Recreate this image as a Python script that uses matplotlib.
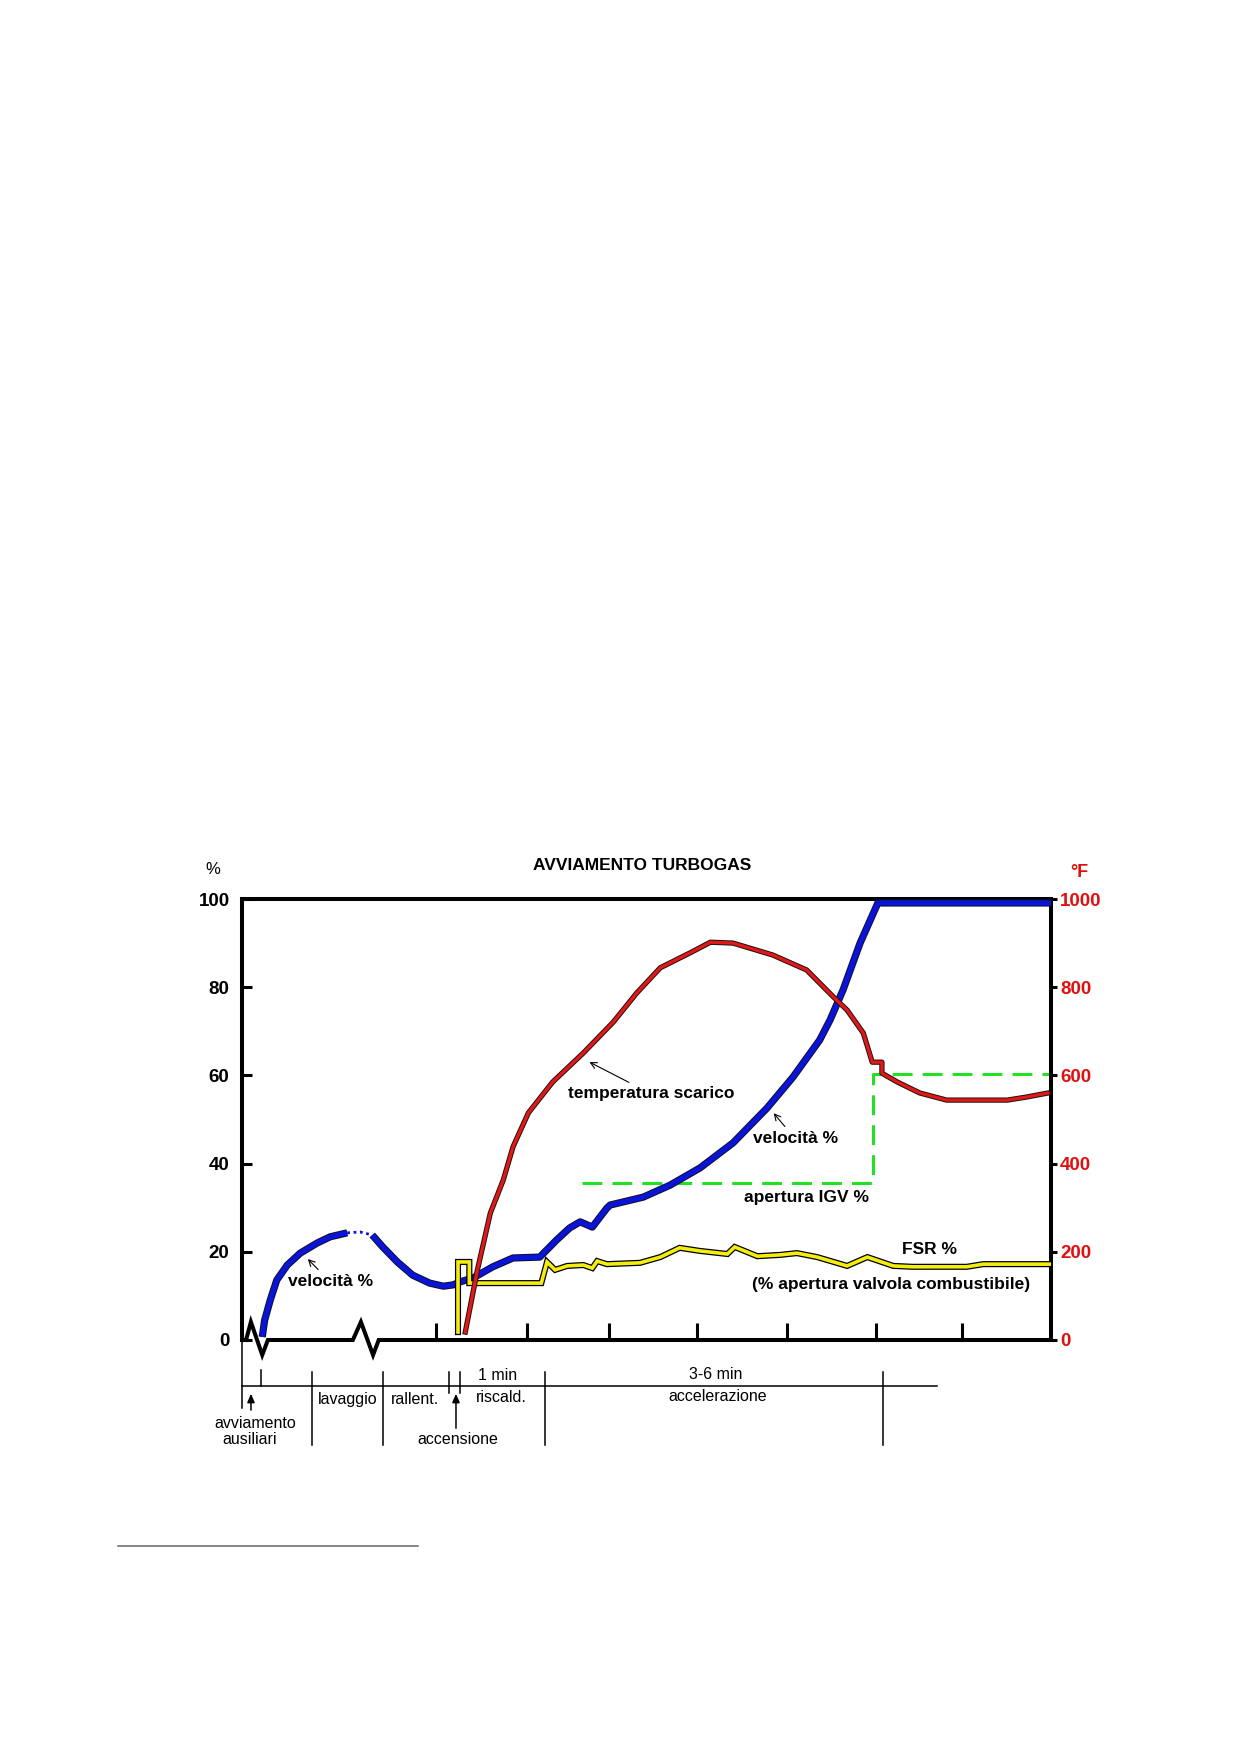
import matplotlib
matplotlib.use("Agg")
import matplotlib.pyplot as plt
import matplotlib.patheffects as pe
from matplotlib.lines import Line2D

plt.rcParams['font.family'] = ['Liberation Sans', 'DejaVu Sans']

# ---------------- data (x: relative time 0-100, left axis %, right axis °F) ----------------
speed_x1 = [2.5, 2.8, 3.5, 4.3, 5.6, 7.2, 9.3, 10.9, 13.0]
speed_y1 = [0.7, 4.5, 9.1, 13.6, 17.0, 19.7, 22.0, 23.4, 24.3]
speed_dot_x = [13.0, 14.6, 16.1]
speed_dot_y = [24.3, 24.5, 23.8]
speed_x2 = [16.1, 17.4, 19.2, 21.1, 23.2, 24.9, 26.1, 27.0, 28.6, 31.0, 33.5, 36.8,
            38.9, 40.5, 41.8, 43.3, 45.1, 45.5, 49.6, 52.9, 56.6, 60.7, 64.9, 68.1,
            71.4, 72.7, 74.3, 76.4, 78.6, 100.0]
speed_y2 = [23.8, 21.1, 17.7, 14.7, 12.9, 12.2, 12.5, 13.2, 14.1, 16.6, 18.6, 18.8,
            22.7, 25.4, 26.8, 25.6, 29.9, 30.6, 32.4, 35.1, 39.0, 44.7, 52.6, 59.6,
            68.0, 72.6, 79.4, 90.0, 99.1, 99.1]

temp_x = [27.6, 29.1, 30.7, 32.3, 33.5, 35.4, 38.4, 42.2, 45.9, 48.8, 51.7, 55.4,
          57.9, 60.7, 65.6, 69.8, 73.1, 74.8, 76.8, 77.9, 79.1, 79.1, 81.0, 83.8,
          87.1, 94.6, 97.0, 99.6]
temp_y = [18, 159, 288, 363, 438, 515, 585, 651, 721, 787, 844, 878,
          902, 900, 873, 839, 778, 748, 696, 630, 630, 605, 585, 560,
          544, 544, 551, 560]

igv_x = [42.0, 78.0, 78.0, 100.0]
igv_y = [35.6, 35.6, 60.3, 60.3]

fsr_x = [26.7, 26.7, 28.1, 28.1, 37.0, 37.7, 38.7, 40.2, 42.2, 43.3, 43.9, 45.1,
         49.2, 51.7, 54.1, 56.6, 60.0, 60.9, 63.7, 66.5, 68.6, 71.1, 74.8, 77.3,
         80.5, 82.9, 89.6, 91.6, 100.0]
fsr_y = [1.8, 17.7, 17.7, 12.9, 12.9, 17.7, 15.9, 16.8, 17.0, 16.3, 17.9, 17.2,
         17.5, 18.8, 20.9, 20.2, 19.5, 21.1, 19.0, 19.3, 19.7, 18.8, 16.8, 18.8,
         16.8, 16.6, 16.6, 17.2, 17.2]

# baseline with break marks
base_x = [0, 0.5, 1.1, 2.5, 3.2, 13.7, 14.7, 16.2, 16.9, 100]
base_y = [0, 0, 4.1, -3.4, 0, 0, 4.1, -3.4, 0, 0]

left_ticks = [0, 20, 40, 60, 80, 100]
right_ticks = [0, 200, 400, 600, 800, 1000]
x_ticks = [24.0, 35.2, 45.4, 56.2, 67.4, 78.4, 89.0]

# timeline (phase boundaries in x units)
phase_long = [8.65, 17.43, 37.45, 79.23]
phase_short = [25.59, 26.95]
phase_first = [2.35]
timeline_end = 85.9
phase_texts = [
    ('avviamento', 1.6, -0.190),
    ('ausiliari', 0.9, -0.2245),
    ('lavaggio', 13.1, -0.134),
    ('rallent.', 21.4, -0.134),
    ('accensione', 26.7, -0.2245),
    ('1 min', 31.6, -0.0816),
    ('riscald.', 32.0, -0.1315),
    ('3-6 min', 58.5, -0.079),
    ('accelerazione', 58.8, -0.127),
]
event_arrows = [(1.11, -0.159), (26.45, -0.20)]

# ---------------- figure ----------------
W, H = 1240, 1754
fig = plt.figure(figsize=(W / 100, H / 100), dpi=100)
ax = fig.add_axes([242 / W, 1 - 1340 / H, 809 / W, 441 / H])
ax2 = ax.twinx()

ax.set_xlim(0, 100)
ax.set_ylim(0, 100)
ax2.set_ylim(0, 1000)

frame_lw = 2.9
for s in ['top', 'left', 'right']:
    ax.spines[s].set_linewidth(frame_lw)
ax.spines['bottom'].set_visible(False)
for s in ax2.spines.values():
    s.set_visible(False)

ax.set_yticks(left_ticks)
ax.set_yticklabels([str(t) for t in left_ticks], fontsize=13.5, fontweight='bold')
ax.tick_params(axis='y', direction='in', length=7, width=2.2, pad=9)
ax.set_xticks(x_ticks)
ax.set_xticklabels([])
ax.tick_params(axis='x', direction='in', length=12, width=2.2)

ax2.set_yticks(right_ticks)
ax2.set_yticklabels([str(t) for t in right_ticks], fontsize=13.5, fontweight='bold',
                    color='#e01010')
ax2.tick_params(axis='y', direction='out', length=4.5, width=2.2, pad=2)

# baseline with breaks
ax.plot(base_x, base_y, color='black', lw=frame_lw, clip_on=False,
        solid_joinstyle='miter', zorder=5)

# curves
blue = '#0a14d8'
blue_fx = [pe.Stroke(linewidth=5.2, foreground='#101030', joinstyle='round'), pe.Normal()]
ax.plot(speed_x1, speed_y1, color=blue, lw=3.7, path_effects=blue_fx,
        solid_capstyle='butt', solid_joinstyle='round', zorder=3)
ax.plot(speed_x2, speed_y2, color=blue, lw=3.7, path_effects=blue_fx,
        solid_capstyle='butt', solid_joinstyle='round', zorder=3)
ax.plot(speed_dot_x, speed_dot_y, color=blue, lw=2.0, linestyle=(0, (1, 1.3)), zorder=3)

ax.plot(igv_x, igv_y, color='#22e022', lw=2.2, dashes=(6.5, 3.3), zorder=2)

ax.plot(fsr_x, fsr_y, color='#f4ee10', lw=2.6, solid_joinstyle='miter',
        path_effects=[pe.Stroke(linewidth=4.4, foreground='black'), pe.Normal()], zorder=4)

ax2.plot(temp_x, temp_y, color='#e01818', lw=2.4, solid_joinstyle='round',
         path_effects=[pe.Stroke(linewidth=3.8, foreground='#201010', joinstyle='round'),
                       pe.Normal()], zorder=3)

# annotations
fs_ann = 12.5
arrow_kw = dict(arrowstyle='->,head_length=0.35,head_width=0.18', lw=0.8, color='black')
ax.annotate('velocità %', xy=(7.9, 18.8), xytext=(10.9, 13.2), fontsize=fs_ann,
            fontweight='bold', ha='center', va='center', arrowprops=arrow_kw)
ax.annotate('temperatura scarico', xy=(42.65, 63.3), xytext=(50.6, 55.8), fontsize=fs_ann,
            fontweight='bold', ha='center', va='center', arrowprops=arrow_kw)
ax.annotate('velocità %', xy=(65.5, 51.9), xytext=(68.4, 45.6), fontsize=fs_ann,
            fontweight='bold', ha='center', va='center', arrowprops=arrow_kw)
ax.text(69.8, 32.4, 'apertura IGV %', fontsize=fs_ann, fontweight='bold',
        ha='center', va='center')
ax.text(85.0, 20.6, 'FSR %', fontsize=fs_ann, fontweight='bold', ha='center', va='center')
ax.text(80.2, 12.5, '(% apertura valvola combustibile)', fontsize=fs_ann,
        fontweight='bold', ha='center', va='center')

# header texts
ax.text(0.494, 1.077, 'AVVIAMENTO TURBOGAS', transform=ax.transAxes, fontsize=12.5,
        fontweight='bold', ha='center', va='center')
ax.text(-0.036, 1.066, '%', transform=ax.transAxes, fontsize=12, ha='center', va='center')
ax.text(1.035, 1.061, '°F', transform=ax.transAxes, fontsize=13, fontweight='bold',
        color='#e01010', ha='center', va='center')

# timeline below the chart
tr = ax.get_xaxis_transform()
tl_lw = 1.1
ax.plot([0, 0], [0, -0.154], transform=tr, color='black', lw=tl_lw, clip_on=False)
ax.plot([0, timeline_end], [-0.1043, -0.1043], transform=tr, color='black', lw=tl_lw,
        clip_on=False)
for xb in phase_long:
    ax.plot([xb, xb], [-0.0726, -0.238], transform=tr, color='black', lw=tl_lw, clip_on=False)
for xb in phase_short:
    ax.plot([xb, xb], [-0.0726, -0.120], transform=tr, color='black', lw=tl_lw, clip_on=False)
for xb in phase_first:
    ax.plot([xb, xb], [-0.068, -0.1043], transform=tr, color='black', lw=tl_lw, clip_on=False)
for txt, xt, yt in phase_texts:
    ax.text(xt, yt, txt, transform=tr, fontsize=11.5, ha='center', va='center')
for xa, y0 in event_arrows:
    ax.annotate('', xy=(xa, -0.122), xytext=(xa, y0), xycoords=tr, textcoords=tr,
                arrowprops=dict(arrowstyle='-|>,head_length=0.5,head_width=0.22',
                                lw=1.1, color='black', shrinkA=0, shrinkB=0))

# footnote separator line
fig.add_artist(Line2D([118 / W, 418 / W], [1 - 1546 / H, 1 - 1546 / H],
                      transform=fig.transFigure, color='#666666', lw=1.1))

fig.savefig('out.png', dpi=100)
